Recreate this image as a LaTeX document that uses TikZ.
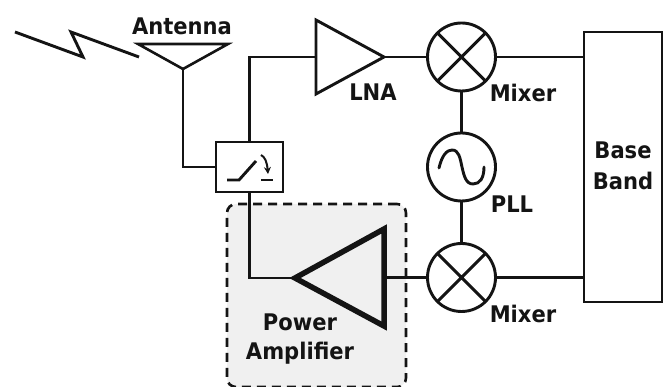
\documentclass[tikz,border=0pt]{standalone}
\usepackage{fontspec}
\newfontfamily\lblfont[FakeStretch=0.92]{DejaVu Sans}
\usetikzlibrary{arrows.meta}
\tikzset{
  wire/.style={line width=2.6pt,draw=black!92,line join=miter},
  thick wire/.style={line width=2.9pt,draw=black!92,line join=miter},
  ring/.style={circle,draw=black!92,line width=2.9pt,minimum size=68pt,inner sep=0pt,outer sep=0pt},
  boxy/.style={rectangle,draw=black!92,line width=2.6pt,inner sep=0pt,outer sep=0pt},
  lbl/.style={font=\lblfont\bfseries\fontsize{22.9}{26}\selectfont,text=black!92,inner sep=0pt,align=center},
}
\begin{document}
\begin{tikzpicture}[x=1pt,y=-1pt]
\useasboundingbox (0,0) rectangle (665,387);
% Power amplifier region
\node[rectangle,rounded corners=9pt,draw=black!92,fill=black!6,line width=2.6pt,dash pattern=on 9pt off 6pt,minimum width=179pt,minimum height=183pt,inner sep=0pt] (parea) at (316.5,295.5) {};
% Coordinates
\coordinate (a1) at (138,44); \coordinate (a2) at (228,44); \coordinate (atip) at (183,69);
\coordinate (l1) at (316,20); \coordinate (l2) at (316,94); \coordinate (ltip) at (384,57); \coordinate (lin) at (316,57);
\coordinate (p1) at (384,229); \coordinate (p2) at (384,326); \coordinate (ptip) at (295,278); \coordinate (pin) at (384,277.5);
% Blocks
\node[ring] (mix1) at (461.5,57) {};
\node[ring] (pll) at (461.5,167) {};
\node[ring] (mix2) at (461.5,277.5) {};
\node[boxy,minimum width=78pt,minimum height=270pt] (bb) at (623,167) {};
\node[boxy,minimum width=67pt,minimum height=50pt] (sw) at (249.5,167) {};
% Antenna, amplifiers
\draw[wire] (a1) -- (a2) -- (atip) -- cycle;
\draw[thick wire] (l1) -- (ltip) -- (l2) -- cycle;
\draw[wire,line width=5.5pt] (p1) -- (ptip) -- (p2) -- cycle;
% Connectors
\draw[wire] (atip) |- (sw.west);
\draw[wire] (sw.north) |- (lin);
\draw[wire] (ltip) -- (mix1.west);
\draw[wire] (mix1.east) -- (bb.west |- mix1.east);
\draw[wire] (mix1.south) -- (pll.north);
\draw[wire] (pll.south) -- (mix2.north);
\draw[wire] (mix2.east) -- (bb.west |- mix2.east);
\draw[wire] (pin) -- (mix2.west);
\draw[wire] (sw.south) |- (ptip);
% Mixer crosses
\foreach \m in {mix1,mix2}{
  \draw[thick wire] (\m.45) -- (\m.225) (\m.135) -- (\m.315);
}
% Sine
\draw[thick wire,line cap=round] (439,168) .. controls (442,155) and (447,150) .. (452,150) .. controls (459,150) and (460,158) .. (462,167) .. controls (464,176) and (466,184) .. (473,184) .. controls (480,184) and (484,178) .. (484,167);
% Lightning
\coordinate (z0) at (15,32); \coordinate (z1) at (83,57); \coordinate (z2) at (71,32); \coordinate (z3) at (139,57);
\draw[thick wire] (z0) -- (z1) -- (z2) -- (z3);
% Switch
\draw[thick wire] (227,180) -- (239,180) -- (256,161);
\draw[thick wire] (261,180) -- (273,180);
\draw[line width=2pt,draw=black!92,-{Stealth[length=7pt,width=7pt]}] (261,155) .. controls (265,157) and (267,162) .. (268,174);
% Labels
\node[lbl] (tant) at (182,26) {Antenna};
\node[lbl] (tlna) at (373,92) {LNA};
\node[lbl] (tm1) at (523,93) {Mixer};
\node[lbl] (tpll) at (512,204) {PLL};
\node[lbl] (tm2) at (523,314) {Mixer};
\node[lbl] (tbase) at (623,150) {Base};
\node[lbl] (tband) at (623,181) {Band};
\node[lbl] (tpow) at (300,322) {Power};
\node[lbl] (tamp) at (300,353) {Amplifier};
\end{tikzpicture}
\end{document}
